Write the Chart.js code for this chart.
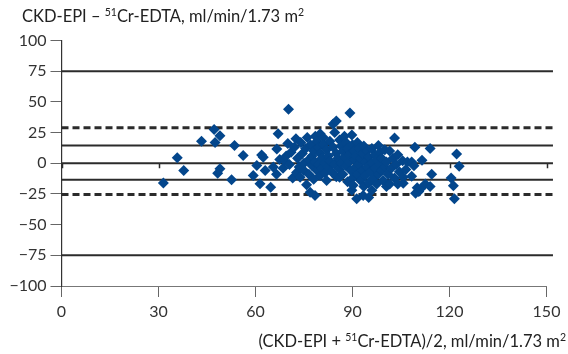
<!DOCTYPE html>
<html><head><meta charset="utf-8">
<script src="https://cdn.jsdelivr.net/npm/chart.js@4/dist/chart.umd.min.js"></script>
<style>html,body{margin:0;padding:0;background:#fff}#wrap{width:568px;height:354px;position:relative}</style>
</head><body><div id="wrap"><canvas id="c" width="568" height="354"></canvas></div>
<script>
// ---- data ----
const xTicks = [0, 30, 60, 90, 120, 150];
const yTicks = [-100, -75, -50, -25, 0, 25, 50, 75, 100];
const outerLines = [75, -75];
const zeroLine = [0];
const sdLines = [14.5, -13.5];
const limitLines = [29, -25.5];
const lineSpan = [0, 152];

const meanValues = [
 31.5,35.8,37.8,43.3,47.2,47.5,49,49,48.3,52.6,53.5,56.2,61.9,62.4,60.4,63,59.3,61.4,64.7,65.5,66.6,67,
 66.5,67.5,68.5,69,69.5,70,70.2,70.5,71,71.5,72,72.5,72.7,73,73.5,73.8,74,74.5,75,75,75.5,75.8,76,76.5,76.5,76.9,
 77,77.5,77.5,78,78,78.4,78.5,78.5,79,79,79.5,79.5,80,80,80,80.5,80.5,81,81,81.5,81.5,82,82,82.5,82.5,83,83,83.5,
 84,84,84.5,84.5,85,85,85,85.5,86,86,86,86.5,86.5,87,87,87.5,87.5,88,88,88.5,88.5,89,89,89.2,89.5,89.8,89.8,
 90,90,90.2,90.5,90.5,91,91,91.3,91.5,91.5,92,92,92.5,92.5,93,93,93.3,93.5,93.5,94,94,94.5,94.5,95,95,95,95.5,
 96,96,96,96.5,97,97,97.5,97.5,98,98,98.5,98.5,99,99,99.5,100,100,100.5,100.5,101,101.5,101.5,102,102.5,103,103,
 103.5,104,104,104.5,
 105.5,105.7,105.7,106.5,107,108.3,108.3,109,109.3,109.5,110,110.5,111.5,111,112.5,114,114.5,114,122.2,123,120.5,121.2,121.5
];
const diffValues = [
 -16,4.5,-6,18,27.5,17,22.5,-4.5,-8.2,-13.5,14.4,6.3,6.8,4.9,-1.9,-6,-10,-16.8,-19.6,-3,11.7,24,
 -9,3,-4,2,6,16,44,-1,9,-12,13,20,-7.5,4,-3,-11.5,17,8,0,-6,12,-17.5,21,3,-9,-23.7,
 15,6,-2,10,-13,-26.3,22,1,18,-6,13,-1,24,8,-10,4,-4,21,15,0,-8,11,-14,6,-3,18,2,-7,
 13,32,25,-1,34.5,8,-11,4,19,-5,-11.5,14,0,10,-9,22,5,-2,17,12,-15,7,1,41,-6,23,-22,
 15,-12,-18,10,3,-3,6,-29,17,-9,12,-1,-14,4,8,-6,-26.3,14,-19,1,-10,10,-3,5,-16,-28,-7,
 12,0,-22,-12,7,-4,3,-17,14.5,-9,9,-1,-6,4,-14,11,-3,1,-19,-9,10,-17,-4,4,20.5,-12,
 -1,-17,7,-7,
 2,-11.5,-16.3,-5,1,1,-10.5,-2,13,-24.5,-20,-23,2.5,-21,-17,12,-9,-19,7.5,-2.5,-12,-18.3,-29
];

// ---- helpers ----
const points = meanValues.map((x, i) => ({ x, y: diffValues[i] }));
const hLine = v => lineSpan.map(x => ({ x, y: v }));
const FONT = 'Lato, "Open Sans", sans-serif';

function lineDs(v, dashed, width) {
  return {
    type: 'scatter', data: hLine(v), showLine: true, pointRadius: 0,
    borderColor: '#2b2b2b', borderWidth: width, borderDash: dashed ? [7, 4] : [],
    clip: false, fill: false
  };
}

const richText = {
  id: 'richText',
  afterDraw(chart) {
    const ctx = chart.ctx;
    const draw = (segs, x, y, align) => {
      const big = '16.5px ' + FONT, small = '10.5px ' + FONT;
      let w = 0;
      segs.forEach(s => { ctx.font = s.sup ? small : big; w += ctx.measureText(s.t).width; });
      let cx = align === 'right' ? x - w : x;
      ctx.fillStyle = '#222';
      ctx.textBaseline = 'alphabetic';
      ctx.textAlign = 'left';
      segs.forEach(s => {
        ctx.font = s.sup ? small : big;
        ctx.fillText(s.t, cx, s.sup ? y - 6.5 : y);
        cx += ctx.measureText(s.t).width;
      });
    };
    ctx.save();
    draw([{ t: 'CKD-EPI \u2013 ' }, { t: '51', sup: true }, { t: 'Cr-EDTA, ml/min/1.73 m' }, { t: '2', sup: true }], 22, 22, 'left');
    draw([{ t: '(CKD-EPI + ' }, { t: '51', sup: true }, { t: 'Cr-EDTA)/2, ml/min/1.73 m' }, { t: '2', sup: true }], 566, 347, 'right');
    ctx.restore();
  }
};

const zeroTicks = {
  id: 'zeroTicks',
  beforeDatasetsDraw(chart) {
    const { ctx, scales: { x, y } } = chart;
    const py = y.getPixelForValue(0);
    ctx.save();
    ctx.strokeStyle = '#2b2b2b';
    ctx.lineWidth = 1.5;
    xTicks.forEach(v => {
      const px = Math.round(x.getPixelForValue(v)) + 0.5;
      ctx.beginPath(); ctx.moveTo(px, py); ctx.lineTo(px, py + 5); ctx.stroke();
    });
    ctx.restore();
  }
};

new Chart(document.getElementById('c'), {
  type: 'scatter',
  data: {
    datasets: [
      { data: points, pointStyle: 'rectRot', pointRadius: 5.5, pointHoverRadius: 5.5,
        backgroundColor: '#03468c', borderColor: '#03468c', borderWidth: 0 },
      ...outerLines.map(v => lineDs(v, false, 2)),
      ...zeroLine.map(v => lineDs(v, false, 2)),
      ...sdLines.map(v => lineDs(v, false, 2)),
      ...limitLines.map(v => lineDs(v, true, 3))
    ]
  },
  options: {
    responsive: false, animation: false, devicePixelRatio: 1,
    layout: { padding: { top: 40.5, right: 21.5, bottom: 0, left: 0 } },
    plugins: { legend: { display: false }, tooltip: { enabled: false } },
    scales: {
      x: {
        type: 'linear', min: 0, max: 150,
        afterFit: s => { s.height = 68; },
        afterBuildTicks: s => { s.ticks = xTicks.map(v => ({ value: v })); },
        grid: { drawOnChartArea: false, drawTicks: true, tickLength: 11, color: '#666', lineWidth: 1 },
        border: { display: true, color: '#777', width: 1 },
        ticks: { color: '#333', font: { family: FONT, size: 16 }, padding: 5, maxRotation: 0 }
      },
      y: {
        type: 'linear', min: -100, max: 100,
        afterFit: s => { s.width = 61.5; },
        afterBuildTicks: s => { s.ticks = yTicks.map(v => ({ value: v })); },
        grid: { drawOnChartArea: false, drawTicks: true, tickLength: 11, color: '#666', lineWidth: 1 },
        border: { display: true, color: '#333', width: 1.2 },
        ticks: { color: '#333', font: { family: FONT, size: 16 }, padding: 4,
                 callback: v => String(v).replace('-', '\u2212') }
      }
    }
  },
  plugins: [zeroTicks, richText]
});
</script></body></html>
